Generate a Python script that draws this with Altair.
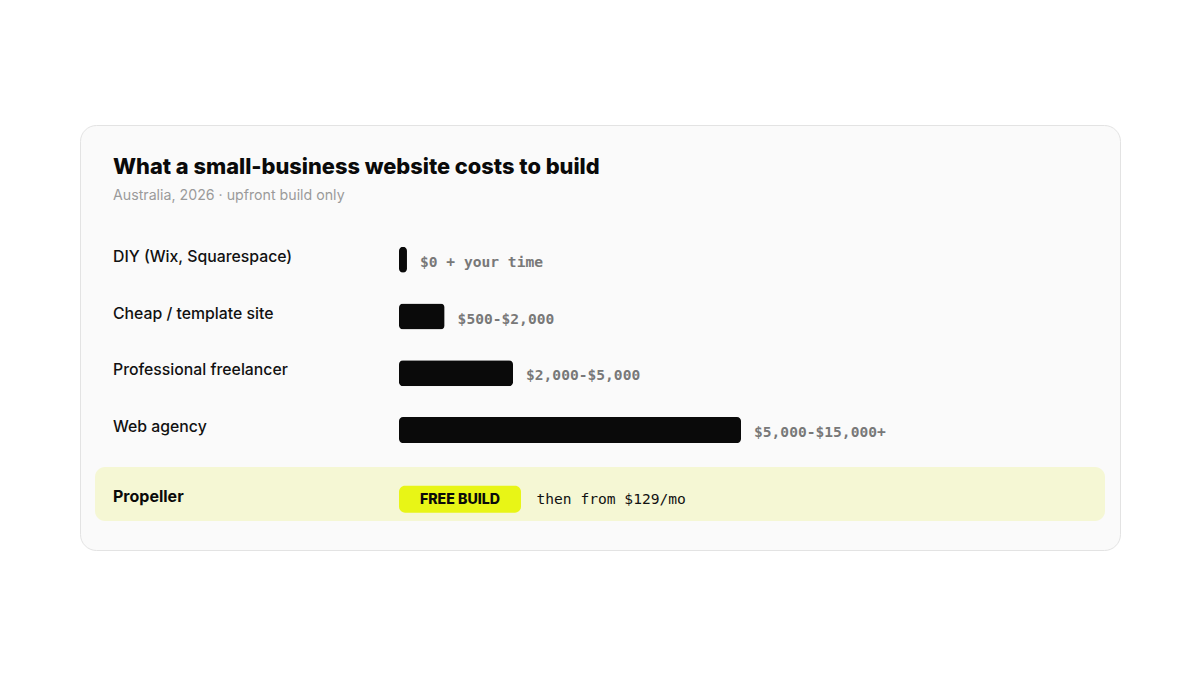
import altair as alt
import pandas as pd

# ---- data ----
categories = ["DIY (Wix, Squarespace)", "Cheap / template site",
              "Professional freelancer", "Web agency"]
range_low = [0, 500, 2000, 5000]
range_high = [0, 2000, 5000, 15000]
value_labels = ["$0 + your time", "$500-$2,000", "$2,000-$5,000", "$5,000-$15,000+"]

highlight_name = ["Propeller"]
highlight_badge = ["FREE BUILD"]
highlight_note = ["then from $129/mo"]

title_text = ["What a small-business website costs to build"]
subtitle_text = ["Australia, 2026 \u00b7 upfront build only"]

rows = pd.DataFrame({"name": categories, "low": range_low,
                     "high": range_high, "label": value_labels})
hl = pd.DataFrame({"name": highlight_name, "badge": highlight_badge,
                   "note": highlight_note})
head = pd.DataFrame({"title": title_text, "subtitle": subtitle_text})

W, H = 1040, 425
SANS = "Inter"
MONO = "DejaVu Sans Mono"

row_order = categories + highlight_name
yscale = alt.Scale(type="point", domain=row_order, range=[134.7, 361.9], padding=0)
xscale = alt.Scale(domain=[0, 15000], range=[319, 661], nice=False)
Y = alt.Y("name:N", scale=yscale, axis=None)

# header
title = alt.Chart(head).mark_text(
    align="left", baseline="alphabetic", font=SANS, fontSize=21.8,
    fontWeight=800, color="#0a0a0a"
).encode(x=alt.value(33), y=alt.value(49.3), text="title:N")

subtitle = alt.Chart(head).mark_text(
    align="left", baseline="alphabetic", font=SANS, fontSize=14.2,
    color="#9a9a9a"
).encode(x=alt.value(33), y=alt.value(75.3), text="subtitle:N")

# highlight row background
hl_bg = alt.Chart(hl).mark_bar(
    color="#f5f7d4", cornerRadius=10, size=54, yOffset=7.1
).encode(x=alt.value(15), x2=alt.value(1025), y=Y)

# row labels
labels = alt.Chart(rows).mark_text(
    align="left", baseline="alphabetic", dy=2, font=SANS, fontSize=15.8,
    fontWeight=500, color="#111111"
).encode(x=alt.value(33), y=Y, text="name:N")

# bars (length = top of the cost range, with a minimum visible stub)
bars = alt.Chart(rows).transform_calculate(
    bar_end="max(datum.high, 350)"
).mark_bar(size=26, cornerRadius=4, color="#0a0a0a").encode(
    x=alt.X("bar_end:Q", scale=xscale, axis=None), y=Y,
    tooltip=["name:N", "label:N"]
)

values = alt.Chart(rows).transform_calculate(
    bar_end="max(datum.high, 350)"
).mark_text(
    align="left", baseline="alphabetic", dx=13, dy=7, font=MONO,
    fontSize=14.6, fontWeight="bold", color="#787878"
).encode(x=alt.X("bar_end:Q", scale=xscale, axis=None), y=Y, text="label:N")

# highlight row content
hl_label = alt.Chart(hl).mark_text(
    align="left", baseline="alphabetic", dy=14.8, font=SANS, fontSize=16,
    fontWeight=700, color="#0a0a0a"
).encode(x=alt.value(33), y=Y, text="name:N")

pill = alt.Chart(hl).mark_bar(
    color="#e8f516", cornerRadius=6, size=27, yOffset=12.3
).encode(x=alt.value(319), x2=alt.value(441), y=Y)

pill_text = alt.Chart(hl).mark_text(
    align="center", baseline="alphabetic", dy=17.4, font=SANS, fontSize=14.2,
    fontWeight=800, color="#0a0a0a"
).encode(x=alt.value(380), y=Y, text="badge:N")

note = alt.Chart(hl).mark_text(
    align="left", baseline="alphabetic", dy=16.8, font=MONO, fontSize=14.6,
    color="#111111"
).encode(x=alt.value(456.5), y=Y, text="note:N")

chart = alt.layer(
    hl_bg, title, subtitle, labels, bars, values, hl_label, pill, pill_text, note
).properties(
    width=W, height=H,
    padding={"left": 72, "top": 117, "right": 8, "bottom": 8},
    background="#ffffff"
).configure_view(
    fill="#fafafa", stroke="#e3e3e3", strokeWidth=1, cornerRadius=16
)

chart.save("out.html", embed_options={"renderer": "svg", "actions": False})
